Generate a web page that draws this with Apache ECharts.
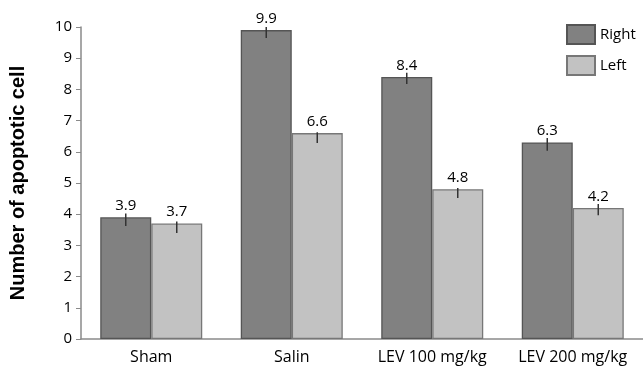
<!DOCTYPE html>
<html><head><meta charset="utf-8">
<script src="https://cdn.jsdelivr.net/npm/echarts@6/dist/echarts.min.js"></script>
<style>html,body{margin:0;padding:0;background:#fff}#c{width:643px;height:372px}</style>
</head><body><div id="c"></div>
<script>
const categories = ['Sham', 'Salin', 'LEV 100 mg/kg', 'LEV 200 mg/kg'];
const rightValues = [3.9, 9.9, 8.4, 6.3];
const leftValues = [3.7, 6.6, 4.8, 4.2];
const rightErrHigh = [4.02, 10.0, 8.53, 6.44];
const rightErrLow = [3.62, 9.65, 8.17, 6.03];
const leftErrHigh = [3.77, 6.63, 4.84, 4.33];
const leftErrLow = [3.40, 6.28, 4.52, 3.97];
const yTicks = [0, 10, 1];

const chart = echarts.init(document.getElementById('c'), null, {renderer: 'canvas'});
const FONT = 'Open Sans';
const BW = 51;

function errSeries(high, low, sign) {
  return {
    type: 'custom',
    z: 5,
    data: high.map((h, i) => [i, low[i], h]),
    renderItem: function (params, api) {
      const p1 = api.coord([api.value(0), api.value(1)]);
      const p2 = api.coord([api.value(0), api.value(2)]);
      const x = p1[0] + sign * BW / 2;
      return {
        type: 'line',
        shape: {x1: x, y1: p1[1], x2: x, y2: p2[1]},
        style: {stroke: '#333', lineWidth: 1.5}
      };
    }
  };
}

chart.setOption({
  animation: false,
  backgroundColor: '#fff',
  grid: {left: 81, top: 27, width: 564, height: 312},
  legend: {
    orient: 'vertical', left: 566, top: 24, itemWidth: 28, itemHeight: 19, itemGap: 10,
    padding: 0, icon: 'rect',
    textStyle: {fontFamily: FONT, fontSize: 15, color: '#000'},
    data: ['Right', 'Left']
  },
  xAxis: {
    type: 'category', data: categories,
    axisLine: {lineStyle: {color: '#8a8a8a', width: 1.5}},
    axisTick: {show: false},
    axisLabel: {interval: 0, fontFamily: FONT, fontSize: 16, color: '#000', margin: 10}
  },
  yAxis: {
    type: 'value', min: yTicks[0], max: yTicks[1], interval: yTicks[2],
    name: 'Number of apoptotic cell', nameLocation: 'middle', nameGap: 53,
    nameTextStyle: {fontFamily: 'Liberation Sans', fontWeight: 'bold', fontSize: 20, color: '#000'},
    axisLine: {show: true, lineStyle: {color: '#8a8a8a', width: 1.5}},
    axisTick: {show: true, length: 5, lineStyle: {color: '#8a8a8a'}},
    splitLine: {show: false},
    axisLabel: {fontFamily: FONT, fontSize: 15, color: '#000', margin: 9}
  },
  series: [
    {
      name: 'Right', type: 'bar', data: rightValues, barWidth: BW, barGap: '0%',
      itemStyle: {color: '#818181', borderColor: '#555', borderWidth: 1.3},
      label: {show: true, position: 'top', distance: 4, fontFamily: FONT, fontSize: 15, color: '#000',
        formatter: p => p.value.toFixed(1)}
    },
    {
      name: 'Left', type: 'bar', data: leftValues, barWidth: BW, barGap: '0%',
      itemStyle: {color: '#c2c2c2', borderColor: '#777', borderWidth: 1.3},
      label: {show: true, position: 'top', distance: 4, fontFamily: FONT, fontSize: 15, color: '#000',
        formatter: p => p.value.toFixed(1)}
    },
    errSeries(rightErrHigh, rightErrLow, -1),
    errSeries(leftErrHigh, leftErrLow, 1)
  ]
});
</script></body></html>
